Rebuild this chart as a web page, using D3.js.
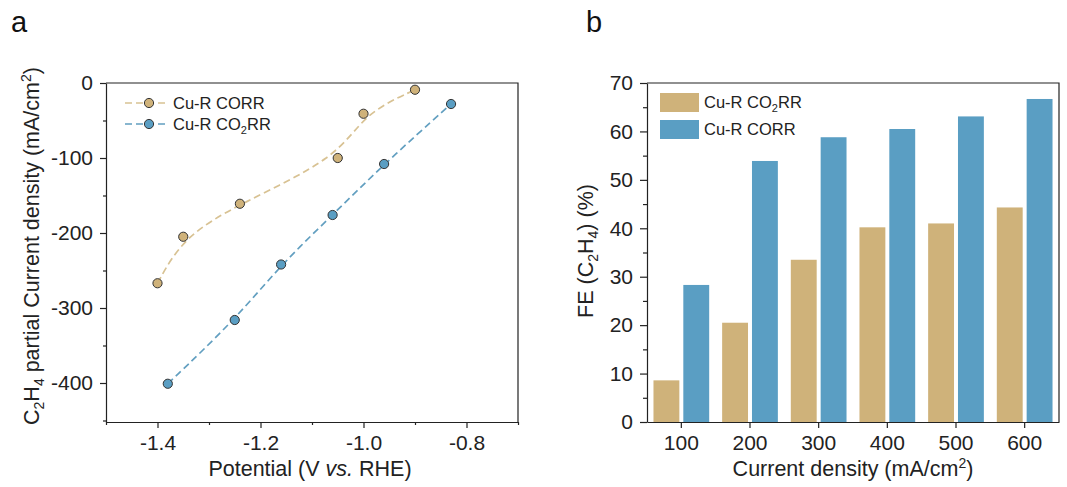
<!DOCTYPE html>
<html>
<head>
<meta charset="utf-8">
<script src="https://cdn.jsdelivr.net/npm/d3@7"></script>
<style>
  body { margin: 0; background: #fff; }
  svg { font-family: "Liberation Sans", Arial, sans-serif; }
  .axis text { font-size: 21px; fill: #222; }
  .axis path, .axis line { stroke: #222; stroke-width: 1.2; }
</style>
</head>
<body>
<div id="chart"></div>
<script>
// panel a: C2H4 partial current density vs potential
const corrPotential = [-1.40, -1.35, -1.24, -1.05, -1.00, -0.90];
const corrCurrent = [-267, -205, -161, -100, -41, -9];
const co2Potential = [-1.38, -1.25, -1.16, -1.06, -0.96, -0.83];
const co2Current = [-401, -316, -242, -176, -108, -28];

// panel b: FE(C2H4) vs current density
const densities = ['100', '200', '300', '400', '500', '600'];
const feCO2RR = [8.6, 20.5, 33.5, 40.2, 41.0, 44.3];
const feCORR = [28.3, 53.9, 58.8, 60.5, 63.1, 66.7];

const xTicksA = [-1.4, -1.2, -1.0, -0.8];
const yTicksA = [0, -100, -200, -300, -400];
const yTicksB = [0, 10, 20, 30, 40, 50, 60, 70];

const tan = '#CFB27A';
const tanLine = '#D8C293';
const blue = '#5A9EC3';
const blueLine = '#629FC0';

const svg = d3.select('#chart')
  .append('svg')
    .attr('width', 1067)
    .attr('height', 487);

// ---------- panel a ----------
const a = { left: 106, right: 518, top: 83, bottom: 422 };

const xA = d3.scaleLinear().domain([-1.5, -0.7]).range([a.left, a.right]);
const yA = d3.scaleLinear().domain([-452, 0]).range([a.bottom, a.top]);

const gA = svg.append('g');

gA.append('g')
    .attr('class', 'axis')
    .attr('transform', `translate(0,${a.bottom})`)
    .call(d3.axisBottom(xA).tickValues([-1.5, -1.3, -1.1, -0.9, -0.7]).tickSize(3).tickFormat(''))
    .call(g => g.select('.domain').remove());
gA.append('g')
    .attr('class', 'axis')
    .attr('transform', `translate(0,${a.bottom})`)
    .call(d3.axisBottom(xA).tickValues(xTicksA).tickSize(6).tickSizeOuter(0).tickPadding(7)
      .tickFormat(d => d3.format('.1f')(d).replace('−', '-')));

gA.append('g')
    .attr('class', 'axis')
    .attr('transform', `translate(${a.left},0)`)
    .call(d3.axisLeft(yA).tickValues([-50, -150, -250, -350, -450]).tickSize(3).tickFormat(''))
    .call(g => g.select('.domain').remove());
gA.append('g')
    .attr('class', 'axis')
    .attr('transform', `translate(${a.left},0)`)
    .call(d3.axisLeft(yA).tickValues(yTicksA).tickSize(6).tickSizeOuter(0).tickPadding(7)
      .tickFormat(d => String(d)));

// top & right frame
gA.append('path')
    .attr('d', `M${a.left},${a.top}H${a.right}V${a.bottom}`)
    .attr('fill', 'none')
    .attr('stroke', '#222')
    .attr('stroke-width', 1.2);

const lineA = d3.line()
    .x(d => xA(d[0]))
    .y(d => yA(d[1]))
    .curve(d3.curveBasis);

const seriesA = [
  { px: corrPotential, py: corrCurrent, fill: tan, line: tanLine },
  { px: co2Potential, py: co2Current, fill: blue, line: blueLine }
];

seriesA.forEach(s => {
  const pts = s.px.map((x, i) => [x, s.py[i]]);
  gA.append('path')
      .datum(pts)
      .attr('d', lineA)
      .attr('fill', 'none')
      .attr('stroke', s.line)
      .attr('stroke-width', 1.7)
      .attr('stroke-dasharray', '7,4');
  gA.selectAll(null)
      .data(pts)
    .enter().append('circle')
      .attr('cx', d => xA(d[0]))
      .attr('cy', d => yA(d[1]))
      .attr('r', 4.6)
      .attr('fill', s.fill)
      .attr('stroke', '#333')
      .attr('stroke-width', 1);
});

// legend a
const legA = [
  { y: 103, fill: tan, line: tanLine, label: ['Cu-R CORR'] },
  { y: 124, fill: blue, line: blueLine, label: ['Cu-R CO', '2', 'RR'] }
];
legA.forEach(l => {
  gA.append('line')
      .attr('x1', 125).attr('x2', 166)
      .attr('y1', l.y).attr('y2', l.y)
      .attr('stroke', l.line)
      .attr('stroke-width', 1.7)
      .attr('stroke-dasharray', '7,4');
  gA.append('circle')
      .attr('cx', 149).attr('cy', l.y).attr('r', 4.6)
      .attr('fill', l.fill).attr('stroke', '#333').attr('stroke-width', 1);
  const t = gA.append('text')
      .attr('x', 173).attr('y', l.y + 6)
      .attr('font-size', 16.5)
      .attr('fill', '#222');
  t.append('tspan').text(l.label[0]);
  if (l.label.length > 1) {
    t.append('tspan').attr('font-size', 11).attr('dy', 4).text(l.label[1]);
    t.append('tspan').attr('dy', -4).text(l.label[2]);
  }
});

// axis titles a
gA.append('text')
    .attr('x', (a.left + a.right) / 2 - 2)
    .attr('y', 476)
    .attr('text-anchor', 'middle')
    .attr('font-size', 21.5)
    .attr('fill', '#222')
    .call(t => {
      t.append('tspan').text('Potential (V ');
      t.append('tspan').attr('font-style', 'italic').text('vs.');
      t.append('tspan').text(' RHE)');
    });

gA.append('text')
    .attr('transform', `translate(39,246) rotate(-90)`)
    .attr('text-anchor', 'middle')
    .attr('font-size', 21.5)
    .attr('fill', '#222')
    .call(t => {
      t.append('tspan').text('C');
      t.append('tspan').attr('font-size', 14).attr('dy', 5).text('2');
      t.append('tspan').attr('dy', -5).text('H');
      t.append('tspan').attr('font-size', 14).attr('dy', 5).text('4');
      t.append('tspan').attr('dy', -5).text(' partial Current density (mA/cm');
      t.append('tspan').attr('font-size', 14).attr('dy', -8).text('2');
      t.append('tspan').attr('dy', 8).text(')');
    });

svg.append('text')
    .attr('x', 11).attr('y', 32)
    .attr('font-size', 29)
    .attr('fill', '#111')
    .text('a');

// ---------- panel b ----------
const b = { left: 647, right: 1059, top: 83, bottom: 422 };

const x0 = d3.scaleBand().domain(densities).range([b.left, b.right]).paddingInner(0).paddingOuter(0);
const x1 = d3.scaleBand().domain(['co2', 'co']).range([0, x0.bandwidth()])
    .paddingInner(0.133).paddingOuter(0.217);
const yB = d3.scaleLinear().domain([0, 70]).range([b.bottom, b.top]);

const gB = svg.append('g');

const barData = densities.map((d, i) => [
  { key: 'co2', cat: d, v: feCO2RR[i] },
  { key: 'co', cat: d, v: feCORR[i] }
]).flat();

gB.selectAll('.bar')
    .data(barData)
  .enter().append('rect')
    .attr('class', 'bar')
    .attr('x', d => x0(d.cat) + x1(d.key))
    .attr('y', d => yB(d.v))
    .attr('width', x1.bandwidth())
    .attr('height', d => yB(0) - yB(d.v))
    .attr('fill', d => d.key === 'co2' ? tan : blue);

gB.append('g')
    .attr('class', 'axis')
    .attr('transform', `translate(0,${b.bottom})`)
    .call(d3.axisBottom(x0).tickSize(6).tickSizeOuter(0).tickPadding(7));

gB.append('g')
    .attr('class', 'axis')
    .attr('transform', `translate(${b.left},0)`)
    .call(d3.axisLeft(yB).tickValues(d3.range(5, 70, 10)).tickSize(4).tickFormat(''))
    .call(g => g.select('.domain').remove());
gB.append('g')
    .attr('class', 'axis')
    .attr('transform', `translate(${b.left},0)`)
    .call(d3.axisLeft(yB).tickValues(yTicksB).tickSize(7).tickSizeOuter(0).tickPadding(7));

gB.append('path')
    .attr('d', `M${b.left},${b.top}H${b.right}V${b.bottom}`)
    .attr('fill', 'none')
    .attr('stroke', '#222')
    .attr('stroke-width', 1.2);

// legend b
const legB = [
  { y: 93, fill: tan, label: ['Cu-R CO', '2', 'RR'] },
  { y: 120, fill: blue, label: ['Cu-R CORR'] }
];
legB.forEach(l => {
  gB.append('rect')
      .attr('x', 660).attr('y', l.y)
      .attr('width', 39).attr('height', 19)
      .attr('fill', l.fill);
  const t = gB.append('text')
      .attr('x', 704).attr('y', l.y + 15)
      .attr('font-size', 16.5)
      .attr('fill', '#222');
  t.append('tspan').text(l.label[0]);
  if (l.label.length > 1) {
    t.append('tspan').attr('font-size', 11).attr('dy', 4).text(l.label[1]);
    t.append('tspan').attr('dy', -4).text(l.label[2]);
  }
});

gB.append('text')
    .attr('x', (b.left + b.right) / 2)
    .attr('y', 476)
    .attr('text-anchor', 'middle')
    .attr('font-size', 21.5)
    .attr('fill', '#222')
    .call(t => {
      t.append('tspan').text('Current density (mA/cm');
      t.append('tspan').attr('font-size', 14).attr('dy', -8).text('2');
      t.append('tspan').attr('dy', 8).text(')');
    });

gB.append('text')
    .attr('transform', `translate(593,251) rotate(-90)`)
    .attr('text-anchor', 'middle')
    .attr('font-size', 21.5)
    .attr('fill', '#222')
    .call(t => {
      t.append('tspan').text('FE (C');
      t.append('tspan').attr('font-size', 14).attr('dy', 5).text('2');
      t.append('tspan').attr('dy', -5).text('H');
      t.append('tspan').attr('font-size', 14).attr('dy', 5).text('4');
      t.append('tspan').attr('dy', -5).text(') (%)');
    });

svg.append('text')
    .attr('x', 586).attr('y', 32)
    .attr('font-size', 29)
    .attr('fill', '#111')
    .text('b');
</script>
</body>
</html>
